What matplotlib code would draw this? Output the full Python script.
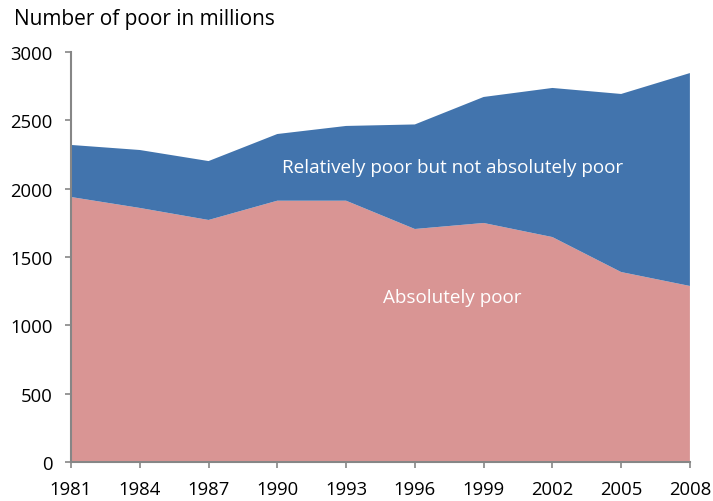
import numpy as np
import matplotlib.pyplot as plt

years = [1981, 1984, 1987, 1990, 1993, 1996, 1999, 2002, 2005, 2008]
absolute = [1939, 1859, 1771, 1912, 1912, 1705, 1749, 1646, 1390, 1288]
total = [2320, 2283, 2202, 2400, 2459, 2470, 2671, 2737, 2693, 2846]
relative = [t - a for t, a in zip(total, absolute)]

plt.rcParams['font.family'] = ['Open Sans', 'DejaVu Sans']

fig = plt.figure(figsize=(7.13, 5.02), dpi=100)
ax = fig.add_axes([0.0996, 0.0777, 0.868, 0.8167])

ax.stackplot(years, absolute, relative, colors=['#d99594', '#4274ad'], lw=0)

ax.set_xlim(1981, 2008)
ax.set_ylim(0, 3000)
ax.set_xticks(years)
ax.set_yticks(range(0, 3001, 500))
ax.tick_params(labelsize=13.3, color='#868686', length=4, width=1.2)
ax.tick_params(axis='y', pad=9)
ax.tick_params(axis='x', pad=9)
for s in ['top', 'right']:
    ax.spines[s].set_visible(False)
for s in ['left', 'bottom']:
    ax.spines[s].set_color('#868686')
    ax.spines[s].set_linewidth(1.5)

ax.text(0.616, 0.72, "Relatively poor but not absolutely poor", transform=ax.transAxes,
        color='white', fontsize=13.6, ha='center', va='center')
ax.text(0.616, 0.402, "Absolutely poor", transform=ax.transAxes,
        color='white', fontsize=13.6, ha='center', va='center')
fig.text(0.02, 0.962, "Number of poor in millions", fontsize=15, ha='left', va='center')

fig.savefig("out.png", dpi=100)
